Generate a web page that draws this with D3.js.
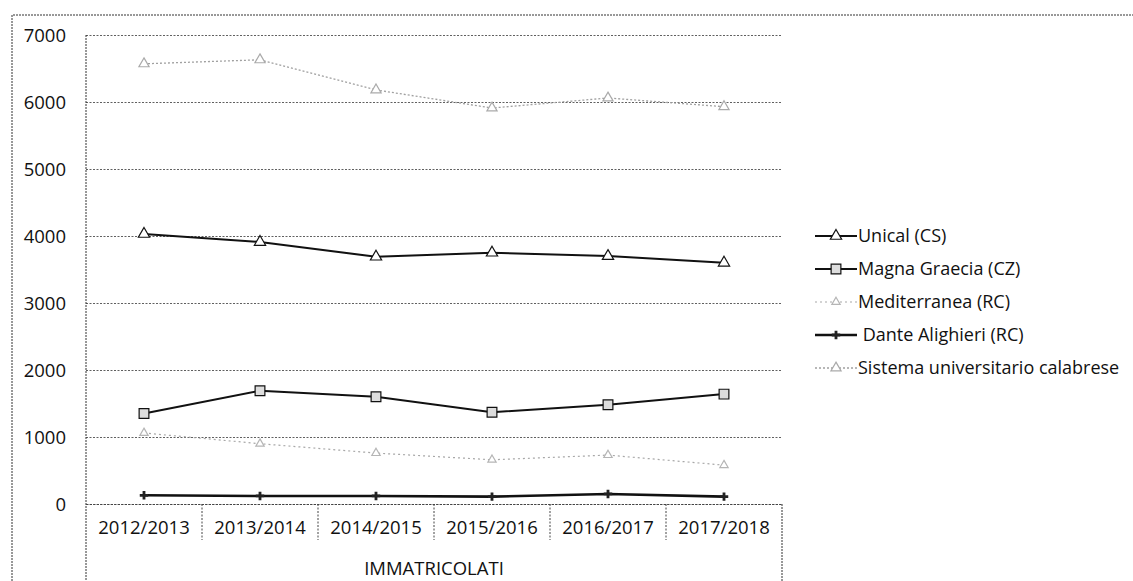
<!DOCTYPE html>
<html>
<head>
<meta charset="utf-8">
<script src="https://cdn.jsdelivr.net/npm/d3@7"></script>
<style>
  body { margin: 0; background: #fff; }
</style>
</head>
<body>
<div id="chart"></div>
<script>
// anni accademici
const categories = ["2012/2013", "2013/2014", "2014/2015", "2015/2016", "2016/2017", "2017/2018"];

// immatricolati per ateneo
const unical = [4030, 3910, 3690, 3750, 3700, 3600];
const magnaGraecia = [1350, 1690, 1600, 1370, 1480, 1640];
const mediterranea = [1060, 900, 760, 660, 730, 580];
const danteAlighieri = [130, 120, 120, 110, 150, 110];
const sistema = [6570, 6630, 6180, 5910, 6060, 5930];

const yTicks = [0, 1000, 2000, 3000, 4000, 5000, 6000, 7000];
const xTitle = "IMMATRICOLATI";

let series = [
  {name: "Unical (CS)", values: unical, stroke: "#111", width: 2, dash: null, symbol: d3.symbolTriangle, size: 55, fill: "#fff", mstroke: "#111"},
  {name: "Magna Graecia (CZ)", values: magnaGraecia, stroke: "#111", width: 2, dash: null, symbol: d3.symbolSquare, size: 95, fill: "#ddd", mstroke: "#111"},
  {name: "Mediterranea (RC)", values: mediterranea, stroke: "#a8a8a8", width: 1.2, dash: "2,3", symbol: d3.symbolTriangle, size: 30, fill: "#fff", mstroke: "#b5b5b5"},
  {name: " Dante Alighieri (RC)", values: danteAlighieri, stroke: "#111", width: 2.6, dash: null, symbol: d3.symbolCross, size: 40, fill: "#222", mstroke: "none"},
  {name: "Sistema universitario calabrese", values: sistema, stroke: "#a0a0a0", width: 1.3, dash: "2,2", symbol: d3.symbolTriangle, size: 45, fill: "#fff", mstroke: "#aaa"}
];

let width = 1133,
  height = 581;

let plot = {left: 86, right: 782, top: 35, bottom: 504};
const font = '"Open Sans", sans-serif';

// scala a bande per le categorie, punti al centro della banda
let x = d3.scaleBand()
  .domain(categories)
  .range([plot.left, plot.right]);

let y = d3.scaleLinear()
  .domain([0, 7000])
  .range([plot.bottom, plot.top]);

let line = d3.line()
  .x((d, i) => x(categories[i]) + x.bandwidth() / 2)
  .y(d => y(d));

function chart() {
  const svg = d3.select('#chart').append('svg')
    .attr('width', width)
    .attr('height', height)
    .style('font-family', font);

  // cornice esterna
  svg.append('path')
    .attr('d', `M12,${height} V15 H${width}`)
    .attr('fill', 'none')
    .attr('stroke', '#333')
    .attr('stroke-dasharray', '2,1');

  // griglia orizzontale
  svg.append('g')
    .attr('transform', `translate(${plot.left},0)`)
    .call(d3.axisLeft(y).tickValues(yTicks).tickSize(-(plot.right - plot.left)).tickFormat(''))
    .call(g => g.select('.domain').remove())
    .call(g => g.selectAll('.tick line')
      .attr('stroke', '#444')
      .attr('stroke-dasharray', '2,1.5')
      .attr('stroke-opacity', 0.85));

  // etichette asse Y
  svg.append('g')
    .attr('transform', `translate(${plot.left - 20},0)`)
    .call(d3.axisLeft(y).tickValues(yTicks).tickSize(0).tickFormat(d3.format('d')))
    .attr('font-family', font)
    .attr('font-size', 18.5)
    .call(g => g.select('.domain').remove())
    .call(g => g.selectAll('text')
      .attr('x', 0)
      .attr('dy', '0.36em')
      .attr('fill', '#111'));

  // linea verticale dell'asse Y e bordo destro sotto l'asse
  svg.append('line')
    .attr('x1', plot.left).attr('x2', plot.left)
    .attr('y1', plot.top).attr('y2', height)
    .attr('stroke', '#333').attr('stroke-dasharray', '2,1');
  svg.append('line')
    .attr('x1', plot.right).attr('x2', plot.right)
    .attr('y1', plot.bottom).attr('y2', height)
    .attr('stroke', '#333').attr('stroke-dasharray', '2,1');

  // asse X
  svg.append('g')
    .attr('transform', `translate(0,${plot.bottom})`)
    .call(d3.axisBottom(x).tickSize(0).tickPadding(17))
    .attr('font-family', font)
    .attr('font-size', 18.5)
    .call(g => g.select('.domain')
      .attr('stroke', '#444')
      .attr('stroke-dasharray', '2,1.5'))
    .call(g => g.selectAll('text')
      .attr('fill', '#111'));

  // separatori tra le categorie
  svg.append('g')
    .selectAll('line')
    .data(categories.slice(1))
    .enter().append('line')
      .attr('x1', d => x(d)).attr('x2', d => x(d))
      .attr('y1', plot.bottom).attr('y2', plot.bottom + 36)
      .attr('stroke', '#444')
      .attr('stroke-dasharray', '2,1.5');

  svg.append('text')
    .attr('x', (plot.left + plot.right) / 2)
    .attr('y', 575)
    .attr('text-anchor', 'middle')
    .attr('fill', '#111')
    .style('font-size', '18.5px')
    .text(xTitle);

  // serie
  const sg = svg.append('g')
    .selectAll('g')
    .data(series)
    .enter().append('g');

  sg.append('path')
    .attr('d', d => line(d.values))
    .attr('fill', 'none')
    .attr('stroke', d => d.stroke)
    .attr('stroke-width', d => d.width)
    .attr('stroke-dasharray', d => d.dash);

  sg.selectAll('.mark')
    .data(d => d.values.map((v, i) => ({s: d, v: v, i: i})))
    .enter().append('path')
      .attr('class', 'mark')
      .attr('transform', d => `translate(${x(categories[d.i]) + x.bandwidth() / 2},${y(d.v)})`)
      .attr('d', d => d3.symbol(d.s.symbol, d.s.size)())
      .attr('fill', d => d.s.fill)
      .attr('stroke', d => d.s.mstroke)
      .attr('stroke-width', 1.2);

  // legenda
  const lg = svg.append('g')
    .selectAll('g')
    .data(series)
    .enter().append('g')
      .attr('transform', (d, i) => `translate(815,${236 + i * 33})`);

  lg.append('line')
    .attr('x1', 0).attr('x2', 42)
    .attr('stroke', d => d.stroke)
    .attr('stroke-width', d => d.width)
    .attr('stroke-dasharray', d => d.dash);

  lg.append('path')
    .attr('transform', 'translate(21,0)')
    .attr('d', d => d3.symbol(d.symbol, d.size)())
    .attr('fill', d => d.fill)
    .attr('stroke', d => d.mstroke)
    .attr('stroke-width', 1.2);

  lg.append('text')
    .attr('x', 43)
    .attr('dy', '0.35em')
    .attr('fill', '#111')
    .style('font-size', '18px')
    .style('white-space', 'pre')
    .text(d => d.name);

  return svg.node();
}

chart();
</script>
</body>
</html>
